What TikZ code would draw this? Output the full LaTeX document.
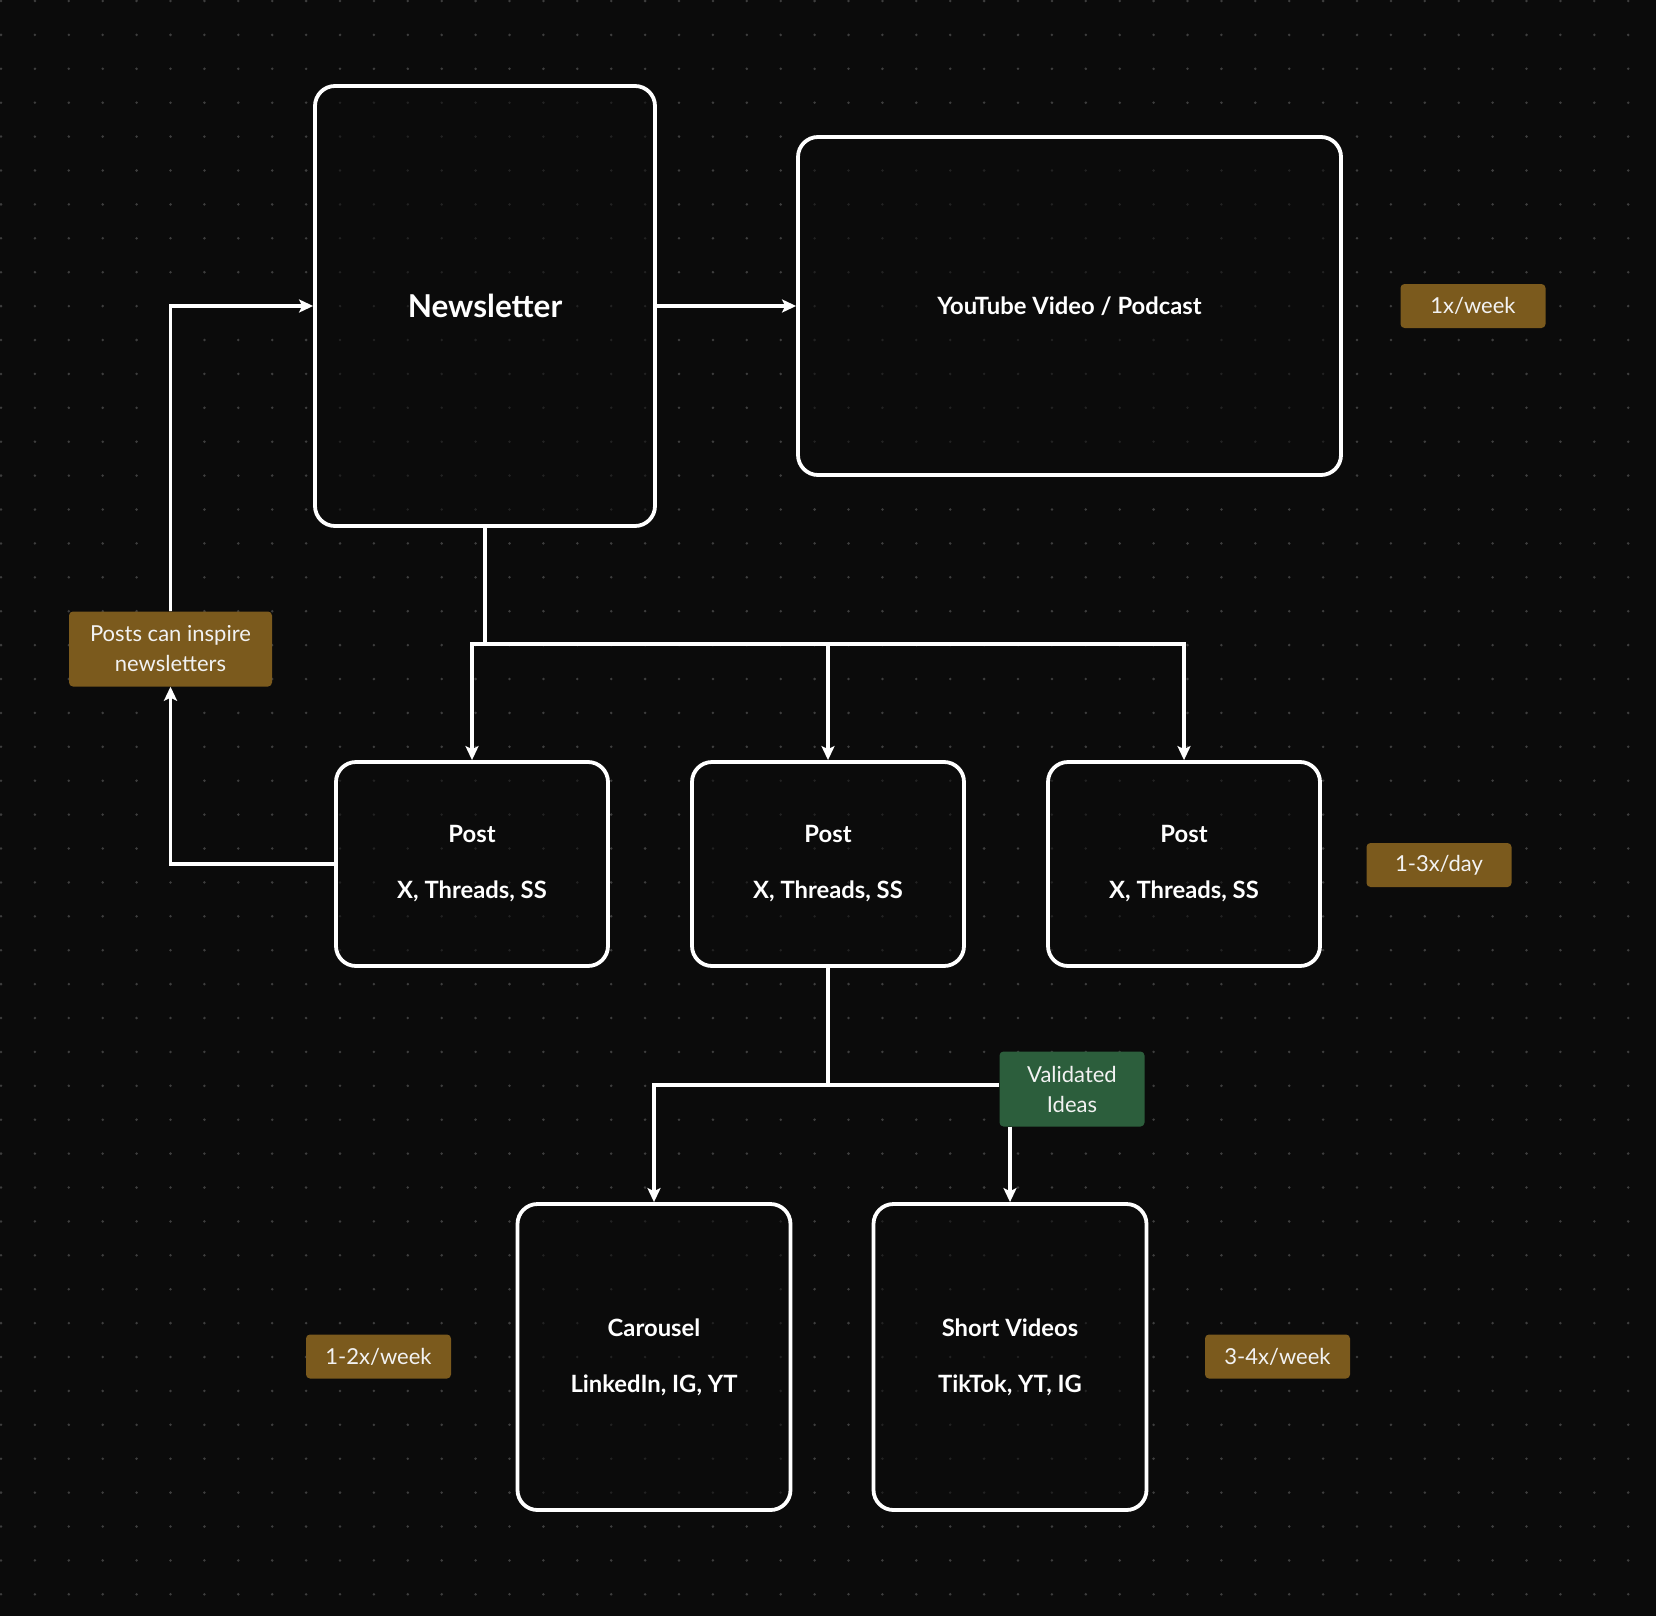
\documentclass[tikz,border=0pt]{standalone}
\usepackage{fontspec}
\setmainfont{Lato}
\usetikzlibrary{arrows.meta}
\definecolor{bg}{HTML}{0B0B0B}
\definecolor{dotc}{HTML}{3E3E3E}
\definecolor{tagbrown}{HTML}{7B5A1D}
\definecolor{taggreen}{HTML}{2C5E3C}
\definecolor{txt}{HTML}{F2F2F2}
\tikzset{
  box/.style={draw=white, line width=3.8pt, rounded corners=20pt, fill=bg, fill opacity=0.55, draw opacity=1, text opacity=1, text=white, inner sep=0pt, align=center, font=\bfseries\fontsize{23.8}{27}\selectfont},
  tag/.style={fill=tagbrown, rounded corners=4pt, text=txt, inner sep=0pt, align=center, minimum width=145pt, minimum height=44pt, font=\fontsize{22}{30}\selectfont},
  conn/.style={draw=white, line width=3.8pt},
  arr/.style={conn, -{Stealth[length=14pt,width=13pt,inset=3pt]}}
}
\begin{document}
\begin{tikzpicture}[x=1pt,y=-1pt]
\fill[bg] (0,0) rectangle (1656,1616);
\useasboundingbox (0,0) rectangle (1656,1616);
\foreach \i in {0,...,48} {\foreach \j in {0,...,47} {\fill[dotc] (1+\i*33.9,1+\j*33.9) circle (1.4pt);}}

% main boxes
\node[box, minimum width=340pt, minimum height=440pt, font=\bfseries\fontsize{31.5}{36}\selectfont] (news) at (485,306) {Newsletter};
\node[box, minimum width=543pt, minimum height=338pt] (yt) at (1069.5,306) {YouTube Video / Podcast};

\node[box, minimum width=272pt, minimum height=204pt] (p1) at (472,864) {Post\\[29pt]X, Threads, SS};
\node[box, minimum width=272pt, minimum height=204pt] (p2) at (828,864) {Post\\[29pt]X, Threads, SS};
\node[box, minimum width=272pt, minimum height=204pt] (p3) at (1184,864) {Post\\[29pt]X, Threads, SS};

\node[box, minimum width=273pt, minimum height=306pt] (car) at (654,1357) {Carousel\\[29pt]LinkedIn, IG, YT};
\node[box, minimum width=273pt, minimum height=306pt] (sv) at (1010,1357) {Short Videos\\[29pt]TikTok, YT, IG};

% tags
\node[tag] (t1) at (1473,306) {1x/week};
\node[tag] (t2) at (1439,865) {1-3x/day};
\node[tag] (t3) at (378.5,1356.5) {1-2x/week};
\node[tag] (t4) at (1277.5,1356.5) {3-4x/week};
\node[tag, minimum width=203pt, minimum height=75pt] (insp) at (170.5,649) {Posts can inspire\\newsletters};
\node[tag, fill=taggreen, minimum width=145pt, minimum height=75pt] (val) at (1072,1089) {Validated\\Ideas};

% connectors
\draw[arr] (news.east) -- (yt.west);
\coordinate (j1) at (485,644);
\draw[conn] (news.south) -- (j1);
\draw[arr] (j1) -| (p1.north);
\draw[arr] (j1) -| (p3.north);
\draw[arr] (p2.north |- j1) -- (p2.north);

\draw[arr] (p1.west) -| (insp.south);
\draw[arr] (insp.north) |- (news.west);

\coordinate (j2) at (828,1085);
\draw[conn] (p2.south) -- (j2);
\draw[arr] (j2) -| (car.north);
\draw[conn] (j2) -- (val.west |- j2);
\draw[arr] (sv.north |- val.south) -- (sv.north);
\end{tikzpicture}
\end{document}
